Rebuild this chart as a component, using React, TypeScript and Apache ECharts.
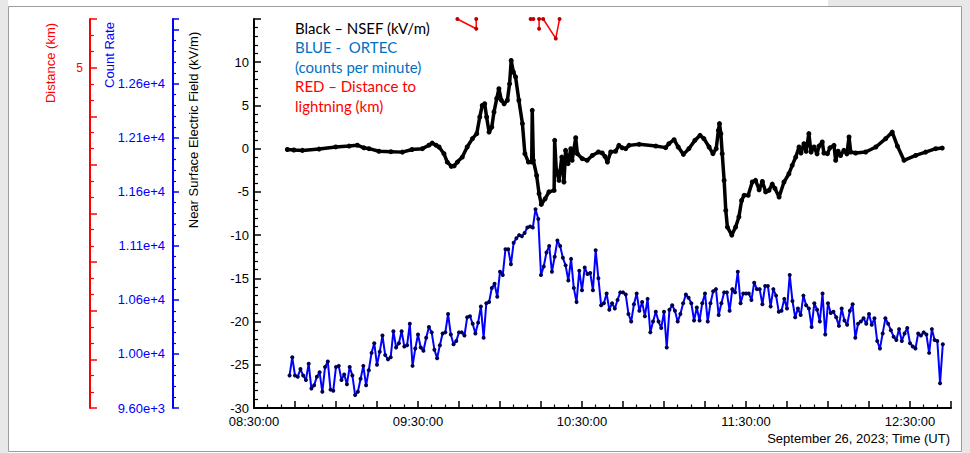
import React, { useEffect, useRef } from 'react';
import * as echarts from 'echarts';

// x axis values are minutes after 08:30:00 UT
const timeTickLabels = ['08:30:00', '09:30:00', '10:30:00', '11:30:00', '12:30:00'];
const countTickLabels = ['9.60e+3', '1.00e+4', '1.06e+4', '1.11e+4', '1.16e+4', '1.21e+4', '1.26e+4'];
const distanceTickLabels: Record<number, string> = { 5: '5' };

// NSEF (kV/m)
const nsefMinutes = [
    12.2, 14.6, 17.7, 23.8, 29.9, 34.8, 37.8, 40.2, 42.1, 45.7,
    50.1, 54.3, 57.8, 61.6, 64.0, 65.2, 66.6, 67.7, 69.5, 70.7,
    72.2, 73.2, 74.4, 76.2, 78.0, 79.9, 81.5, 82.6, 83.5, 84.4,
    85.1, 86.0, 87.0, 87.8, 88.8, 89.6, 90.5, 91.5, 92.7, 93.5,
    94.1, 94.9, 95.7, 96.9, 98.2, 99.1, 100.4, 101.6, 101.8, 102.2,
    103.4, 104.3, 105.1, 106.5, 107.9, 109.8, 110.0, 110.6, 111.6, 112.6,
    113.4, 114.0, 114.9, 115.9, 116.4, 117.7, 118.3, 120.1, 121.9, 123.8,
    126.0, 127.4, 128.4, 129.3, 130.5, 132.3, 133.5, 134.7, 136.0, 137.2,
    140.9, 147.0, 150.6, 151.8, 153.7, 155.2, 157.1, 159.1, 161.3, 163.2,
    164.6, 166.5, 167.9, 169.1, 169.9, 170.3, 170.8, 171.3, 172.0, 172.6,
    173.2, 174.8, 176.2, 177.4, 178.4, 179.3, 180.8, 182.3, 183.5, 184.8,
    186.0, 187.2, 188.4, 189.6, 190.6, 192.1, 193.9, 195.7, 196.9, 198.2,
    199.4, 200.1, 201.2, 202.0, 203.0, 203.8, 204.9, 206.0, 206.7, 207.9,
    208.5, 209.8, 210.7, 212.2, 212.8, 213.7, 214.6, 215.8, 216.9, 217.7,
    218.3, 220.1, 223.8, 227.5, 231.1, 233.5, 235.4, 237.8, 242.1, 245.7,
    249.4, 251.8,
];
const nsefValues = [
    -0.1, -0.15, -0.2, -0.05, 0.2, 0.3, 0.4, 0.1, 0.0, -0.3,
    -0.35, -0.4, -0.1, 0.0, 0.4, 0.65, 0.4, 0.19, -0.58, -1.55,
    -2.05, -2.0, -1.55, -0.97, 0.19, 1.16, 1.74, 3.66, 5.0, 5.2,
    3.66, 1.92, 2.5, 4.24, 5.8, 6.94, 5.6, 5.2, 5.6, 7.5,
    10.2, 8.87, 8.3, 5.6, 2.9, -0.58, -1.55, -1.55, 4.43, -1.35,
    -3.1, -5.2, -6.45, -5.8, -5.0, -4.83, 0.96, -2.5, -3.67, -0.97,
    -3.86, -0.2, -1.74, 0, -1.35, 1.27, -0.58, -1.16, -1.35, -0.78,
    -0.39, -0.5, -0.9, -1.55, -0.39, -0.3, 0.38, 0.1, 0.0, 0.38,
    0.5, 0.3, 0.12, 0.58, 1.04, 0.19, -0.66, 0, 0.96, 1.54,
    1.16, 0.19, -0.58, 0, 2.12, 2.9, 1.74, -0.58, -3.67, -7.14,
    -9.07, -10.0, -9.07, -7.9, -6.0, -5.4, -5.4, -3.86, -3.67, -4.75,
    -3.8, -5.0, -4.83, -4.1, -4.6, -5.6, -3.86, -2.9, -1.93, -0.97,
    0.19, -0.5, 0.58, -0.3, 1.74, -0.4, 0.2, -0.6, 0.3, 0.77,
    -0.5, -0.58, 0.1, 0.38, -1.35, -0.3, -0.8, -0.2, -0.6, 1.35,
    -0.39, -0.5, -0.39, 0.19, 1.16, 1.92, 0.3, -1.35, -0.78, -0.4,
    0.0, 0.07,
];

// ORTEC count rate, one value per minute from 08:43
const ortecStartMinute = 13;
const ortecCounts = [
    9900, 10070, 9900, 9890, 9960, 9900, 9860, 10010, 9780, 9810,
    9890, 9930, 9750, 9980, 10030, 9770, 9760, 9980, 9990, 9860,
    9910, 9820, 9980, 9900, 9720, 9750, 9870, 9990, 9810, 9950,
    10110, 10200, 10000, 10120, 10270, 10090, 10050, 10070, 10310, 10160,
    10200, 10310, 10170, 10180, 10380, 9990, 10150, 10280, 10160, 10130,
    10250, 10350, 10300, 10140, 10060, 10180, 10290, 10300, 10470, 10280,
    10190, 10220, 10300, 10300, 10270, 10440, 10450, 10380, 10290, 10390,
    10540, 10250, 10570, 10580, 10710, 10750, 10630, 10860, 10830, 11070,
    11070, 10930, 11130, 11170, 11200, 11190, 11220, 11270, 11280, 11270,
    11440, 11350, 10830, 10910, 11040, 11100, 10860, 11000, 11150, 11100,
    10990, 10920, 10780, 10980, 10710, 10580, 10870, 10690, 10900, 10840,
    10850, 10690, 11060, 10800, 10550, 10570, 10660, 10510, 10570, 10520,
    10600, 10670, 10670, 10650, 10470, 10400, 10560, 10660, 10500, 10580,
    10450, 10610, 10300, 10400, 10490, 10400, 10340, 10490, 10160, 10510,
    10550, 10500, 10400, 10470, 10570, 10650, 10620, 10570, 10410, 10530,
    10410, 10570, 10660, 10400, 10570, 10680, 10700, 10460, 10570, 10670,
    10670, 10500, 10700, 10670, 10860, 10570, 10660, 10660, 10660, 10600,
    10760, 10700, 10700, 10560, 10730, 10730, 10540, 10700, 10640, 10490,
    10500, 10610, 10520, 10830, 10590, 10440, 10520, 10460, 10640, 10550,
    10520, 10350, 10570, 10510, 10400, 10660, 10280, 10570, 10480, 10490,
    10440, 10360, 10520, 10410, 10370, 10500, 10560, 10250, 10380, 10400,
    10430, 10380, 10470, 10370, 10430, 10220, 10150, 10290, 10430, 10380,
    10320, 10260, 10230, 10330, 10220, 10290, 10340, 10200, 10170, 10150,
    10290, 10270, 10300, 10280, 10110, 10330, 10230, 10220, 9830, 10190,
];

// distance to lightning (km); null breaks the line
const distMinutes = [74.4, 81.3, 81.3, 91.0, 101.2, 102.2, 103.2, 104.3, 104.3, 105.8, 110.4, 111.8];
const distKm = [6.0, 5.8, 6.0, null, 6.0, 6.0, null, 5.8, 6.0, 6.0, 5.6, 6.0];

const AXIS_FONT = "'Liberation Sans', Arial, sans-serif";
const NOTE_FONT = "Lato, 'Open Sans', sans-serif";

export default function App() {
    const chartRef = useRef<HTMLDivElement>(null);

    useEffect(() => {
        if (!chartRef.current) return;
        document.body.style.margin = '0';

        const chart = echarts.init(chartRef.current, undefined, { renderer: 'svg' });

        const nsefData = nsefMinutes.map((m, i) => [m, nsefValues[i]]);
        const ortecData = ortecCounts.map((c, i) => [ortecStartMinute + i, c]);
        const distData = distMinutes.map((m, i) => [m, distKm[i]]);

        const sideAxis = (color: string, offset: number) => ({
            type: 'value' as const,
            position: 'left' as const,
            offset,
            splitLine: { show: false },
            axisLine: { show: true, onZero: false, lineStyle: { color, width: 2 } },
            axisTick: { show: true, inside: true, length: 6, lineStyle: { color, width: 1.5 } },
            minorTick: { show: true, length: 3, lineStyle: { color, width: 1.2 } },
            axisLabel: { color, fontSize: 13, fontFamily: AXIS_FONT, margin: 8 },
        });

        const noteLine = (text: string, y: number, color: string) => ({
            type: 'text',
            x: 295,
            y,
            style: { text, fill: color, font: `15px ${NOTE_FONT}`, verticalAlign: 'middle' },
        });

        const axisName = (text: string, x: number, y: number, color: string) => ({
            type: 'text',
            x,
            y,
            rotation: Math.PI / 2,
            style: { text, fill: color, font: `13px ${AXIS_FONT}`, align: 'center', verticalAlign: 'middle' },
        });

        const option = {
            animation: false,
            backgroundColor: '#ffffff',
            grid: { left: 254, top: 19, width: 697, height: 389, containLabel: false },
            xAxis: {
                type: 'value',
                min: 0,
                max: 255,
                interval: 15,
                splitLine: { show: false },
                axisLine: { show: true, onZero: false, lineStyle: { color: '#000', width: 2 } },
                axisTick: { show: true, inside: true, length: 7, lineStyle: { color: '#000', width: 1.5 } },
                minorTick: { show: true, splitNumber: 3, length: 3.5, lineStyle: { color: '#000', width: 1.2 } },
                axisLabel: {
                    color: '#000',
                    fontSize: 13,
                    fontFamily: AXIS_FONT,
                    margin: 7,
                    formatter: (v: number) => (v % 60 === 0 ? timeTickLabels[v / 60] ?? '' : ''),
                },
            },
            yAxis: [
                {
                    ...sideAxis('#000000', 0),
                    min: -30,
                    max: 15,
                    interval: 5,
                    axisTick: { show: true, inside: true, length: 7, lineStyle: { color: '#000', width: 1.5 } },
                    minorTick: { show: true, splitNumber: 5, length: 4, lineStyle: { color: '#000', width: 1.2 } },
                    axisLabel: {
                        color: '#000', fontSize: 13, fontFamily: AXIS_FONT, margin: 5,
                        formatter: (v: number) => (v === 15 ? '' : String(v)),
                    },
                },
                {
                    ...sideAxis('#0000ff', 81),
                    min: 9600,
                    max: 13200,
                    interval: 500,
                    minorTick: { show: true, splitNumber: 5, length: 3, lineStyle: { color: '#0000ff', width: 1.2 } },
                    axisLabel: {
                        color: '#0000ff', fontSize: 13, fontFamily: AXIS_FONT, margin: 8,
                        formatter: (v: number) => {
                            const k = Math.round((v - 9600) / 500);
                            return Math.abs(v - (9600 + k * 500)) < 1e-6 ? countTickLabels[k] ?? '' : '';
                        },
                    },
                },
                {
                    ...sideAxis('#ff0000', 164),
                    min: -2,
                    max: 6,
                    interval: 1,
                    axisTick: { show: true, inside: true, length: 7, lineStyle: { color: '#ff0000', width: 1.5 } },
                    minorTick: { show: true, splitNumber: 3, length: 4, lineStyle: { color: '#ff0000', width: 1.2 } },
                    axisLabel: {
                        color: '#ff0000', fontSize: 12, fontFamily: AXIS_FONT, margin: 7,
                        formatter: (v: number) => distanceTickLabels[v] ?? '',
                    },
                },
            ],
            graphic: [
                { type: 'rect', silent: true, shape: { x: 0, y: 0, width: 8, height: 453 }, style: { fill: '#e8e8e8' } },
                { type: 'rect', silent: true, shape: { x: 962, y: 0, width: 8, height: 453 }, style: { fill: '#e8e8e8' } },
                { type: 'rect', silent: true, shape: { x: 828, y: 0, width: 142, height: 6 }, style: { fill: '#e8e8e8' } },
                {
                    type: 'rect', silent: true,
                    shape: { x: 8.5, y: 6.5, width: 953, height: 445 },
                    style: { fill: 'none', stroke: '#9c9c9c', lineWidth: 1 },
                },
                noteLine('Black \u2013 NSEF (kV/m)', 27.5, '#000000'),
                noteLine('BLUE -  ORTEC', 47, '#0070c0'),
                noteLine('(counts per minute)', 66.5, '#0070c0'),
                noteLine('RED \u2013 Distance to', 86, '#ff0000'),
                noteLine('lightning (km)', 105.5, '#ff0000'),
                axisName('Distance (km)', 50.5, 63, '#ff0000'),
                axisName('Count Rate', 109, 55, '#0000ff'),
                axisName('Near Surface Electric Field (kV/m)', 193, 130, '#000000'),
                {
                    type: 'text',
                    x: 950,
                    y: 438,
                    style: {
                        text: 'September 26, 2023; Time (UT)', fill: '#000',
                        font: `13px ${AXIS_FONT}`, align: 'right', verticalAlign: 'middle',
                    },
                },
            ],
            series: [
                {
                    name: 'ORTEC',
                    type: 'line',
                    yAxisIndex: 1,
                    data: ortecData,
                    symbol: 'circle',
                    symbolSize: 4,
                    lineStyle: { color: '#0000ff', width: 2 },
                    itemStyle: { color: '#000050' },
                    z: 2,
                },
                {
                    name: 'NSEF',
                    type: 'line',
                    yAxisIndex: 0,
                    data: nsefData,
                    symbol: 'circle',
                    symbolSize: 5,
                    lineStyle: { color: '#000000', width: 3.5 },
                    itemStyle: { color: '#000000' },
                    z: 3,
                },
                {
                    name: 'Distance',
                    type: 'line',
                    yAxisIndex: 2,
                    data: distData,
                    connectNulls: false,
                    clip: false,
                    symbol: 'circle',
                    symbolSize: 4,
                    lineStyle: { color: '#ff0000', width: 1.5 },
                    itemStyle: { color: '#c00000' },
                    z: 4,
                },
            ],
        };

        chart.setOption(option as any);

        return () => {
            chart.dispose();
        };
    }, []);

    return <div ref={chartRef} style={{ width: 970, height: 453 }} />;
}
